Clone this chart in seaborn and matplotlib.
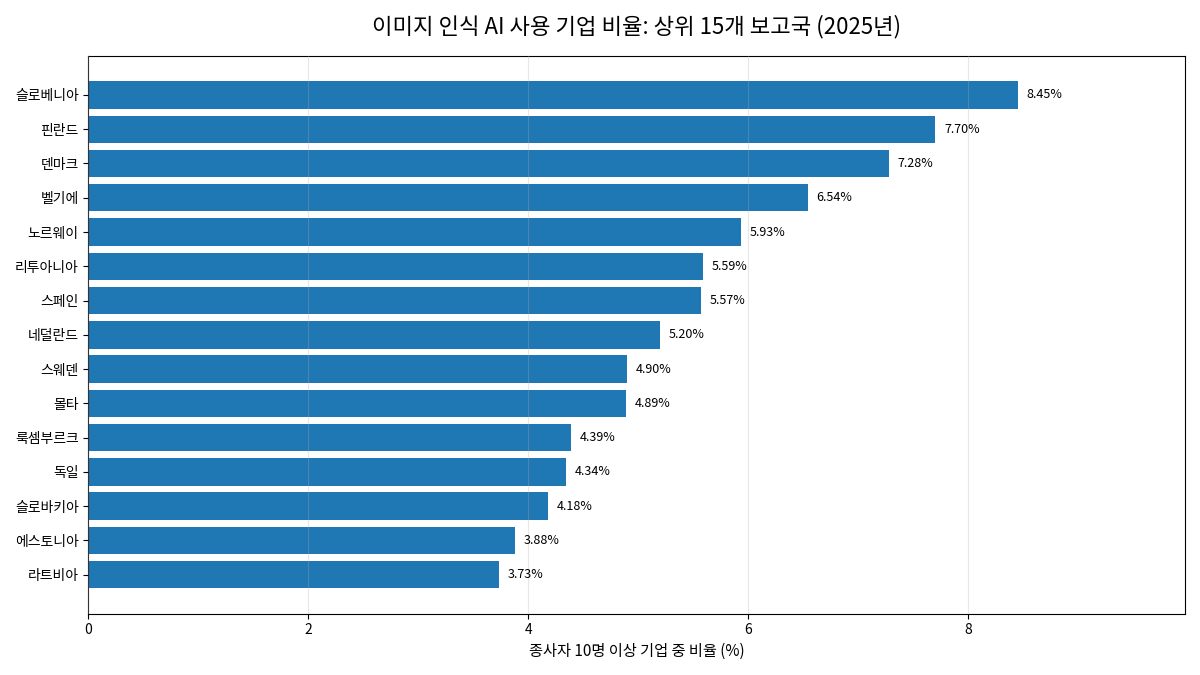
"""이미지 인식 AI 사용 기업 비율 — 상위 15개 보고국 (2025년)."""
import matplotlib
matplotlib.use("Agg")
import matplotlib.pyplot as plt
import pandas as pd
import seaborn as sns

plt.rcParams["font.family"] = ["Noto Sans CJK KR", "DejaVu Sans"]

countries = ["슬로베니아", "핀란드", "덴마크", "벨기에", "노르웨이", "리투아니아", "스페인",
             "네덜란드", "스웨덴", "몰타", "룩셈부르크", "독일", "슬로바키아", "에스토니아", "라트비아"]
shares = [8.45, 7.70, 7.28, 6.54, 5.93, 5.59, 5.57, 5.20, 4.90, 4.89, 4.39, 4.34, 4.18, 3.88, 3.73]

df = pd.DataFrame({"country": countries, "share": shares})

fig, ax = plt.subplots(figsize=(12, 6.75), dpi=100)
sns.barplot(data=df, y="country", x="share", orient="h", color="#1f77b4",
            saturation=1, width=0.8, ax=ax)

for i, v in enumerate(shares):
    ax.text(v + 0.08, i, f"{v:.2f}%", va="center", ha="left", fontsize=9)

n = len(countries)
ax.set_ylim(n - 1 + 1.14, -1.14)
ax.set_xlim(0, max(shares) * 1.18)
ax.grid(axis="x", alpha=0.3)
ax.set_axisbelow(False)
ax.set_ylabel("")
ax.set_xlabel("종사자 10명 이상 기업 중 비율 (%)", fontsize=11)
ax.tick_params(axis="both", labelsize=10)
ax.set_title("이미지 인식 AI 사용 기업 비율: 상위 15개 보고국 (2025년)", fontsize=16, pad=16)

plt.tight_layout()
fig.savefig("out.png", dpi=100)
plt.close(fig)
